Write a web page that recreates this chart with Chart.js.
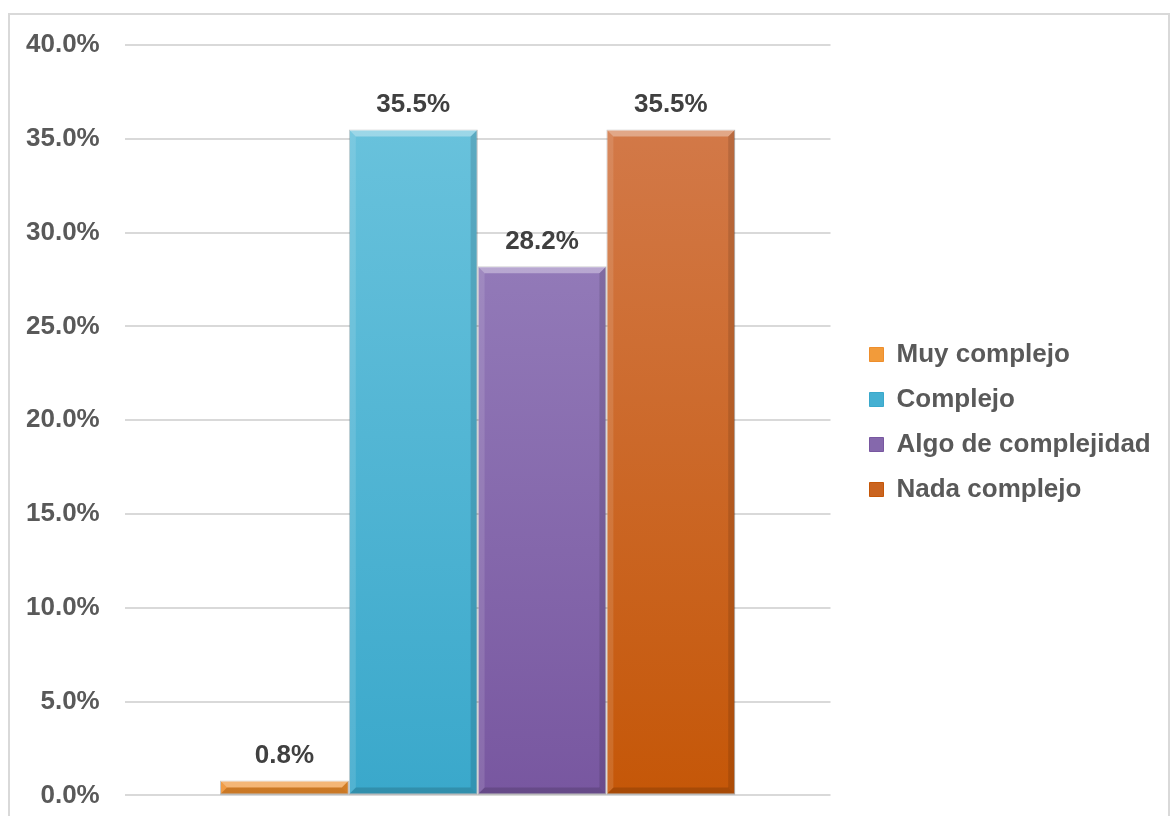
<!DOCTYPE html>
<html>
<head>
<meta charset="utf-8">
<script src="https://cdn.jsdelivr.net/npm/chart.js@4/dist/chart.umd.min.js"></script>
<style>
  html, body { margin: 0; padding: 0; background: #fff; overflow: hidden; }
  #wrap { position: relative; width: 1190px; height: 836px; }
</style>
</head>
<body>
<div id="wrap"><canvas id="grafico"></canvas></div>
<script>
const categories = [''];
const seriesNames = ['Muy complejo', 'Complejo', 'Algo de complejidad', 'Nada complejo'];
const seriesValues = [0.8, 35.5, 28.2, 35.5];
const colorTop = ['#FBC46C', '#6EC5DE', '#9D88C2', '#D47D50'];
const colorBottom = ['#EE8E2C', '#3AA8CB', '#7857A0', '#C55708'];
const colorLegend = ['#F29B3A', '#45B0D2', '#8568AC', '#CA6420'];
const yTicks = [0, 5, 10, 15, 20, 25, 30, 35, 40];

const FONT = '"Liberation Sans", Arial, sans-serif';

function gradient(i) {
    return function (ctx) {
        const area = ctx.chart.chartArea;
        if (!area) return colorLegend[i];
        const g = ctx.chart.ctx.createLinearGradient(0, area.top, 0, area.bottom);
        g.addColorStop(0, colorTop[i]);
        g.addColorStop(1, colorBottom[i]);
        return g;
    };
}

const datasets = seriesNames.map((name, i) => ({
    label: name,
    data: [seriesValues[i]],
    backgroundColor: gradient(i),
    borderColor: 'rgba(0,0,0,0.25)',
    borderWidth: 1,
    borderSkipped: false,
}));

// marco gris alrededor del grafico
const frame = {
    id: 'frame',
    beforeDraw(chart) {
        const c = chart.ctx;
        c.save();
        c.strokeStyle = '#d9d9d9';
        c.lineWidth = 2;
        c.strokeRect(9, 14, 1160, chart.height);
        c.restore();
    }
};

// relieve de las barras y etiquetas de valor
const bevel = {
    id: 'bevel',
    afterDatasetsDraw(chart) {
        const c = chart.ctx;
        chart.data.datasets.forEach((ds, i) => {
            const meta = chart.getDatasetMeta(i);
            meta.data.forEach((bar, j) => {
                const l = bar.x - bar.width / 2, r = bar.x + bar.width / 2;
                const t = bar.y, b = bar.base;
                const s = Math.min(7, (b - t) / 2);
                c.save();
                const poly = (pts, fill) => {
                    c.beginPath();
                    c.moveTo(pts[0][0], pts[0][1]);
                    pts.slice(1).forEach(p => c.lineTo(p[0], p[1]));
                    c.closePath();
                    c.fillStyle = fill;
                    c.fill();
                };
                poly([[l, t], [r, t], [r - s, t + s], [l + s, t + s]], 'rgba(255,255,255,0.35)');
                poly([[l, t], [l + s, t + s], [l + s, b - s], [l, b]], 'rgba(255,255,255,0.12)');
                poly([[r, t], [r, b], [r - s, b - s], [r - s, t + s]], 'rgba(0,0,0,0.12)');
                poly([[l, b], [l + s, b - s], [r - s, b - s], [r, b]], 'rgba(0,0,0,0.15)');
                c.fillStyle = '#404040';
                c.font = 'bold 26px ' + FONT;
                c.textAlign = 'center';
                c.textBaseline = 'middle';
                c.fillText(ds.data[j].toFixed(1) + '%', bar.x, t - 25);
                c.restore();
            });
        });
    }
};

// leyenda mas ancha y desplazada como en el original
const legendGap = {
    id: 'legendGap',
    beforeInit(chart) {
        const fit = chart.legend.fit;
        chart.legend.fit = function () {
            fit.bind(chart.legend)();
            this.width += 60;
        };
    },
    afterLayout(chart) {
        const lg = chart.legend;
        lg.left += 20; lg.right += 20;
        lg.top -= 14; lg.bottom -= 14;
    }
};

new Chart(document.getElementById('grafico'), {
    type: 'bar',
    data: { labels: categories, datasets: datasets },
    plugins: [frame, legendGap, bevel],
    options: {
        responsive: true,
        maintainAspectRatio: false,
        animation: false,
        categoryPercentage: 0.73,
        barPercentage: 1,
        layout: { padding: { top: 45, left: 1, right: 3, bottom: 9 } },
        plugins: {
            tooltip: { enabled: false },
            legend: {
                position: 'right',
                align: 'center',
                labels: {
                    boxWidth: 14,
                    boxHeight: 14,
                    padding: 19,
                    color: '#595959',
                    font: { family: FONT, size: 26, weight: 'bold' },
                    generateLabels(chart) {
                        return chart.data.datasets.map((ds, i) => ({
                            text: ds.label,
                            fillStyle: colorLegend[i],
                            strokeStyle: colorBottom[i],
                            lineWidth: 1,
                            fontColor: '#595959',
                            datasetIndex: i,
                        }));
                    }
                }
            }
        },
        scales: {
            x: {
                display: false,
            },
            y: {
                min: 0,
                max: 40,
                afterBuildTicks(axis) {
                    axis.ticks = yTicks.map(v => ({ value: v }));
                },
                border: { display: false },
                grid: { color: '#d9d9d9', lineWidth: 2, drawTicks: false },
                ticks: {
                    padding: 25,
                    color: '#595959',
                    font: { family: FONT, size: 26, weight: 'bold' },
                    callback: v => v.toFixed(1) + '%'
                }
            }
        }
    }
});
</script>
</body>
</html>
